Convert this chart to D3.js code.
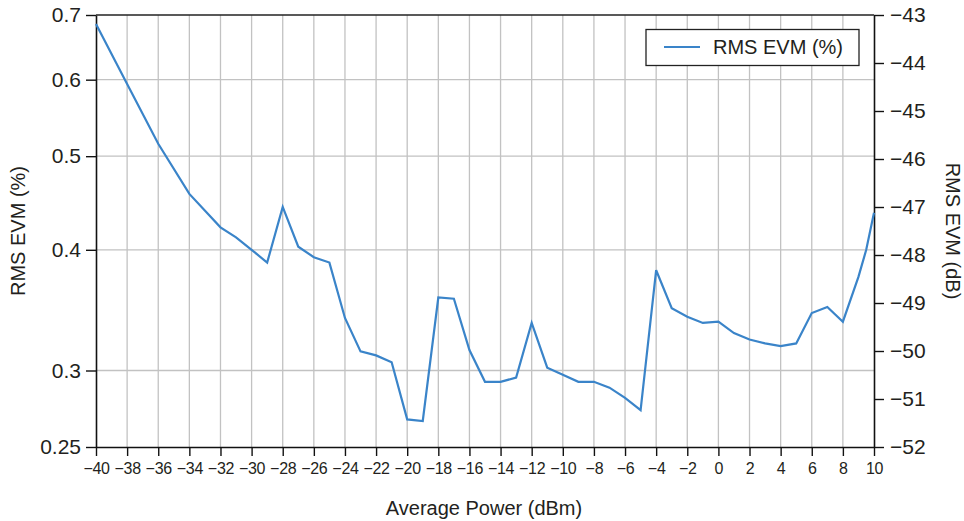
<!DOCTYPE html>
<html>
<head>
<meta charset="utf-8">
<script src="https://cdn.jsdelivr.net/npm/d3@7"></script>
<style>
  html, body { margin: 0; padding: 0; background: #fff; }
  svg { display: block; font-family: "Liberation Sans", Arial, Helvetica, sans-serif; }
</style>
</head>
<body>
<svg id="chart" width="964" height="521"></svg>
<script>
// ---- data ----
const powerDbm = [-40, -38, -36, -34, -32, -31, -30, -29, -28, -27, -26, -25, -24, -23, -22, -21, -20, -19, -18, -17, -16, -15, -14, -13, -12, -11, -10, -9, -8, -7, -6, -5, -4, -3, -2, -1, 0, 1, 2, 3, 4, 5, 6, 7, 8, 9, 9.5, 10];
const rmsEvmPct = [0.685, 0.594, 0.515, 0.457, 0.422, 0.412, 0.400, 0.388, 0.443, 0.403, 0.393, 0.388, 0.340, 0.314, 0.311, 0.306, 0.267, 0.266, 0.357, 0.356, 0.315, 0.292, 0.292, 0.295, 0.336, 0.302, 0.297, 0.292, 0.292, 0.288, 0.281, 0.273, 0.381, 0.348, 0.341, 0.336, 0.337, 0.328, 0.323, 0.320, 0.318, 0.320, 0.344, 0.349, 0.337, 0.375, 0.400, 0.437];
const xTicks = [-40, -38, -36, -34, -32, -30, -28, -26, -24, -22, -20, -18, -16, -14, -12, -10, -8, -6, -4, -2, 0, 2, 4, 6, 8, 10];
const leftTicks = [0.25, 0.3, 0.4, 0.5, 0.6, 0.7];
const rightTicks = [-52, -51, -50, -49, -48, -47, -46, -45, -44, -43];
const seriesName = "RMS EVM (%)";
const xTitle = "Average Power (dBm)";
const leftTitle = "RMS EVM (%)";
const rightTitle = "RMS EVM (dB)";

// ---- layout ----
const L = 96, R = 874, T = 15, B = 447;
const svg = d3.select("#chart");
const fmtMinus = s => String(s).replace("-", "\u2212");

const x = d3.scaleLinear().domain([-40, 10]).range([L, R]);
const yL = d3.scaleLog().domain([0.25, 0.7]).range([B, T]);
const yR = d3.scaleLinear().domain([-52, -43]).range([B, T]);

const gridColor = "#c2c2c2";
const textColor = "#231f20";
// vertical grid
svg.append("g").selectAll("line").data(xTicks.filter(d => d > -40 && d < 10)).join("line")
  .attr("x1", d => x(d)).attr("x2", d => x(d)).attr("y1", T).attr("y2", B)
  .attr("stroke", gridColor).attr("stroke-width", 1.3);
// horizontal grid
svg.append("g").selectAll("line").data(leftTicks.filter(d => d > 0.25 && d < 0.7)).join("line")
  .attr("x1", L).attr("x2", R).attr("y1", d => yL(d)).attr("y2", d => yL(d))
  .attr("stroke", gridColor).attr("stroke-width", 1.3);

// axes
const styleAxis = (g, size) => {
  g.select(".domain").attr("stroke", "#111").attr("stroke-width", 1.6);
  g.selectAll(".tick line").attr("stroke", "#111").attr("stroke-width", 1.4);
  g.selectAll(".tick text").attr("fill", textColor).style("font-size", size + "px")
    .style("font-family", '"Liberation Sans", Arial, sans-serif');
};

const gx = svg.append("g").attr("transform", `translate(0,${B})`)
  .call(d3.axisBottom(x).tickValues(xTicks).tickSize(9).tickSizeOuter(0).tickPadding(4).tickFormat(fmtMinus));
styleAxis(gx, 16);
gx.selectAll(".tick text").attr("dy", "0.85em").style("letter-spacing", "-0.3px");

const gl = svg.append("g").attr("transform", `translate(${L},0)`)
  .call(d3.axisLeft(yL).tickValues(leftTicks).tickSize(10).tickSizeOuter(0).tickPadding(5).tickFormat(d => String(d)));
styleAxis(gl, 21);

const gr = svg.append("g").attr("transform", `translate(${R},0)`)
  .call(d3.axisRight(yR).tickValues(rightTicks).tickSize(10).tickSizeOuter(0).tickPadding(6).tickFormat(fmtMinus));
styleAxis(gr, 21);

// top frame
svg.append("line").attr("x1", L).attr("x2", R).attr("y1", T).attr("y2", T)
  .attr("stroke", "#222").attr("stroke-width", 1.6);

// data line
const line = d3.line().x((d, i) => x(powerDbm[i])).y(d => yL(d));
svg.append("path").datum(rmsEvmPct).attr("d", line)
  .attr("fill", "none").attr("stroke", "#3a84c9").attr("stroke-width", 2.2)
  .attr("stroke-linejoin", "miter");

// legend
const lg = svg.append("g");
lg.append("rect").attr("x", 646).attr("y", 29.5).attr("width", 213).attr("height", 36)
  .attr("fill", "#fff").attr("stroke", "#222").attr("stroke-width", 1.3);
lg.append("line").attr("x1", 664).attr("x2", 700).attr("y1", 47).attr("y2", 47)
  .attr("stroke", "#3a84c9").attr("stroke-width", 2.2);
lg.append("text").attr("x", 713).attr("y", 47).attr("dy", "0.35em")
  .attr("fill", textColor).style("font-size", "20px").text(seriesName);

// titles
svg.append("text").attr("x", 484).attr("y", 508).attr("dy", "0.35em").attr("text-anchor", "middle")
  .attr("fill", textColor).style("font-size", "20px").text(xTitle);
svg.append("text").attr("transform", "translate(18,231) rotate(-90)").attr("dy", "0.35em")
  .attr("text-anchor", "middle").attr("fill", textColor).style("font-size", "20px").text(leftTitle);
svg.append("text").attr("transform", "translate(953,231) rotate(90)").attr("dy", "0.35em")
  .attr("text-anchor", "middle").attr("fill", textColor).style("font-size", "20px").text(rightTitle);
</script>
</body>
</html>
